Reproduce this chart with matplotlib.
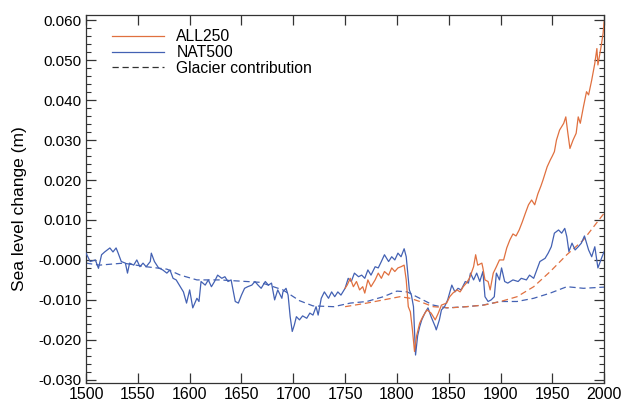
import numpy as np
import matplotlib
matplotlib.use("Agg")
import matplotlib.pyplot as plt
from matplotlib.ticker import MultipleLocator
from matplotlib.lines import Line2D

plt.rcParams['font.family'] = ['Liberation Sans', 'DejaVu Sans']

# NAT500 (natural forcing)
natYears = [1500, 1504, 1509, 1512, 1515, 1518, 1523, 1526, 1529, 1531, 1534, 1538, 1540, 1542,
            1546, 1549, 1552, 1555, 1558, 1562, 1563, 1566, 1570, 1574, 1578, 1581, 1584, 1587,
            1591, 1594, 1597, 1600, 1603, 1607, 1609, 1611, 1615, 1618, 1621, 1624, 1627, 1631,
            1634, 1637, 1640, 1644, 1647, 1650, 1653, 1656, 1660, 1663, 1666, 1669, 1673, 1676,
            1679, 1682, 1685, 1689, 1690, 1693, 1695, 1697, 1699, 1701, 1703, 1706, 1709, 1713,
            1716, 1719, 1722, 1724, 1727, 1730, 1734, 1737, 1740, 1743, 1746, 1750, 1753, 1756,
            1759, 1763, 1766, 1769, 1772, 1775, 1779, 1782, 1785, 1788, 1792, 1795, 1798, 1801,
            1804, 1807, 1809, 1812, 1814, 1816, 1818, 1820, 1822, 1824, 1827, 1830, 1833, 1837,
            1838, 1841, 1843, 1846, 1849, 1853, 1856, 1859, 1862, 1866, 1869, 1871, 1874, 1877,
            1880, 1883, 1885, 1888, 1891, 1894, 1896, 1899, 1901, 1904, 1907, 1912, 1917, 1920,
            1925, 1928, 1932, 1935, 1938, 1943, 1946, 1949, 1952, 1956, 1959, 1962, 1964, 1966,
            1969, 1972, 1975, 1978, 1981, 1985, 1988, 1991, 1994, 1998, 2000]
natValues = [0.0017, -0.0004, 0.0, -0.0021, 0.0013, 0.002, 0.003, 0.002, 0.003, 0.0017, -0.0004,
             -0.0008, -0.0033, -0.0008, -0.0013, 0.0, -0.0017, -0.0008, -0.0017, -0.0004, 0.0017,
             -0.0004, -0.002, -0.0025, -0.0033, -0.0025, -0.0046, -0.005, -0.0067, -0.008, -0.0108,
             -0.0075, -0.012, -0.0096, -0.0104, -0.0054, -0.0063, -0.005, -0.0067, -0.0054, -0.0038,
             -0.0046, -0.0042, -0.0054, -0.005, -0.0104, -0.0108, -0.0088, -0.0071, -0.0067, -0.0063,
             -0.0054, -0.0063, -0.0071, -0.0054, -0.0063, -0.0058, -0.010, -0.0075, -0.0096, -0.008,
             -0.0071, -0.0088, -0.0142, -0.0179, -0.0163, -0.0142, -0.015, -0.014, -0.0146, -0.0133,
             -0.0138, -0.0117, -0.0138, -0.0096, -0.008, -0.0096, -0.008, -0.0092, -0.008, -0.0088,
             -0.0071, -0.0046, -0.0054, -0.0033, -0.0042, -0.0038, -0.0046, -0.0025, -0.0038, -0.0017,
             -0.002, -0.0004, 0.0013, -0.0004, 0.0008, 0.0, 0.0017, 0.0008, 0.0028, 0.0008, -0.0075,
             -0.0088, -0.0117, -0.0238, -0.019, -0.0167, -0.015, -0.0133, -0.012, -0.0142, -0.0167,
             -0.0175, -0.015, -0.0125, -0.0117, -0.010, -0.0063, -0.008, -0.0071, -0.0075, -0.0054,
             -0.0058, -0.0033, -0.005, -0.0033, -0.0054, -0.0029, -0.0092, -0.0104, -0.010, -0.0092,
             -0.0033, -0.005, -0.002, -0.0054, -0.0058, -0.005, -0.0054, -0.0046, -0.005, -0.0038,
             -0.0046, -0.0025, -0.0004, 0.0004, 0.0017, 0.0033, 0.0067, 0.0075, 0.0067, 0.0079,
             0.0058, 0.0021, 0.0042, 0.0025, 0.0033, 0.0042, 0.006, 0.0025, 0.0008, 0.0033, -0.002,
             0.0008, 0.0021]

# ALL250 (all forcings), from 1750
allYears = [1750, 1752, 1755, 1758, 1761, 1764, 1767, 1769, 1772, 1775, 1779, 1782, 1785, 1788,
            1792, 1795, 1798, 1801, 1804, 1807, 1809, 1811, 1813, 1815, 1817, 1819, 1822, 1825,
            1829, 1833, 1837, 1840, 1843, 1848, 1851, 1854, 1858, 1861, 1864, 1867, 1870, 1874,
            1876, 1878, 1882, 1883, 1885, 1888, 1890, 1893, 1896, 1899, 1903, 1906, 1909, 1912,
            1915, 1918, 1921, 1924, 1927, 1930, 1933, 1936, 1939, 1941, 1945, 1948, 1950, 1952,
            1954, 1957, 1961, 1963, 1965, 1967, 1970, 1973, 1975, 1977, 1980, 1983, 1985, 1988,
            1991, 1993, 1994, 1997, 1999, 2000]
allValues = [-0.0071, -0.0063, -0.0046, -0.0067, -0.0054, -0.0075, -0.0067, -0.0083, -0.005,
             -0.0067, -0.005, -0.0033, -0.0046, -0.0029, -0.0038, -0.002, -0.0029, -0.002, -0.0017,
             -0.0013, -0.005, -0.0117, -0.013, -0.0175, -0.0229, -0.019, -0.0158, -0.0142, -0.0125,
             -0.0133, -0.015, -0.0133, -0.0113, -0.0108, -0.0092, -0.0083, -0.0075, -0.008, -0.0067,
             -0.0058, -0.0046, -0.0017, 0.0013, -0.0013, -0.0008, -0.002, -0.005, -0.0054, -0.0075,
             -0.0033, -0.0017, 0.0, 0.0, 0.003, 0.005, 0.0065, 0.006, 0.0075, 0.0095, 0.0117,
             0.0138, 0.015, 0.0138, 0.0165, 0.0185, 0.020, 0.0233, 0.025, 0.026, 0.0271, 0.030,
             0.0325, 0.0342, 0.0358, 0.0317, 0.0279, 0.030, 0.0317, 0.0358, 0.0342, 0.0383, 0.0421,
             0.0413, 0.045, 0.0492, 0.0529, 0.0488, 0.0533, 0.0567, 0.0596]

# glacier contributions (dashed)
glacNatYears = [1500, 1513, 1536, 1558, 1578, 1591, 1607, 1629, 1655, 1668, 1690, 1706, 1719,
                1739, 1755, 1771, 1787, 1800, 1810, 1819, 1835, 1848, 1867, 1883, 1900, 1916,
                1932, 1948, 1964, 1980, 2000]
glacNatValues = [-0.0008, -0.0013, -0.0008, -0.0017, -0.0023, -0.0038, -0.005, -0.005, -0.0054,
                 -0.0056, -0.0075, -0.0102, -0.0115, -0.0117, -0.0108, -0.0104, -0.0092, -0.0078,
                 -0.008, -0.0092, -0.0113, -0.012, -0.0117, -0.0113, -0.0104, -0.0104, -0.0096,
                 -0.0083, -0.0067, -0.0071, -0.0068]
glacAllYears = [1750, 1771, 1787, 1803, 1813, 1822, 1835, 1851, 1867, 1884, 1900, 1916, 1932,
                1948, 1964, 1980, 2000]
glacAllValues = [-0.0117, -0.0108, -0.010, -0.0092, -0.0096, -0.0104, -0.0117, -0.012, -0.0117,
                 -0.0113, -0.0104, -0.0092, -0.0067, -0.0029, 0.0013, 0.005, 0.0117]

yTicks = [0.06, 0.05, 0.04, 0.03, 0.02, 0.01, 0.0, -0.01, -0.02, -0.03]
yTickLabels = ['0.060', '0.050', '0.040', '0.030', '0.020', '0.010', '-0.000',
               '-0.010', '-0.020', '-0.030']
xTicks = list(range(1500, 2001, 50))

orange = '#e0703f'
blue = '#4361b3'
axisColor = '#333333'

fig = plt.figure(figsize=(6.28, 4.05), dpi=100)
ax = fig.add_axes([0.137, 0.0543, 0.825, 0.9087])

ax.plot(natYears, natValues, color=blue, linewidth=0.9, zorder=3)
ax.plot(allYears, allValues, color=orange, linewidth=0.9, zorder=4)
ax.plot(glacNatYears, glacNatValues, color=blue, linewidth=0.9, linestyle=(0, (5, 3)), zorder=2)
ax.plot(glacAllYears, glacAllValues, color=orange, linewidth=0.9, linestyle=(0, (5, 3)), zorder=2)

ax.set_xlim(1500, 2000)
ax.set_ylim(-0.0308, 0.0613)
ax.set_xticks(xTicks)
ax.set_yticks(yTicks)
ax.set_yticklabels(yTickLabels)
ax.yaxis.set_minor_locator(MultipleLocator(0.002))
ax.tick_params(axis='both', which='major', direction='in', length=7, width=0.9,
               color=axisColor, labelsize=11, top=True, right=True, pad=3)
ax.tick_params(axis='x', labelsize=11.5)
ax.tick_params(axis='y', which='minor', direction='in', length=3.5, width=0.8,
               color=axisColor, right=True)
for sp in ax.spines.values():
    sp.set_color(axisColor)
    sp.set_linewidth(0.9)

ax.set_ylabel('Sea level change (m)', fontsize=12.5)
ax.yaxis.set_label_coords(-0.114, 0.473)

# legend drawn with proxy lines
handles = [Line2D([], [], color=orange, linewidth=0.9),
           Line2D([], [], color=blue, linewidth=0.9),
           Line2D([], [], color='#333333', linewidth=0.9, linestyle=(0, (5, 3)))]
labels = ['ALL250', 'NAT500', 'Glacier contribution']
ax.legend(handles, labels, loc='upper left', bbox_to_anchor=(0.05, 0.961), frameon=False,
          fontsize=11.3, handlelength=3.3, handletextpad=0.8, labelspacing=0.05,
          borderpad=0, borderaxespad=0)

fig.savefig('out.png', dpi=100)
